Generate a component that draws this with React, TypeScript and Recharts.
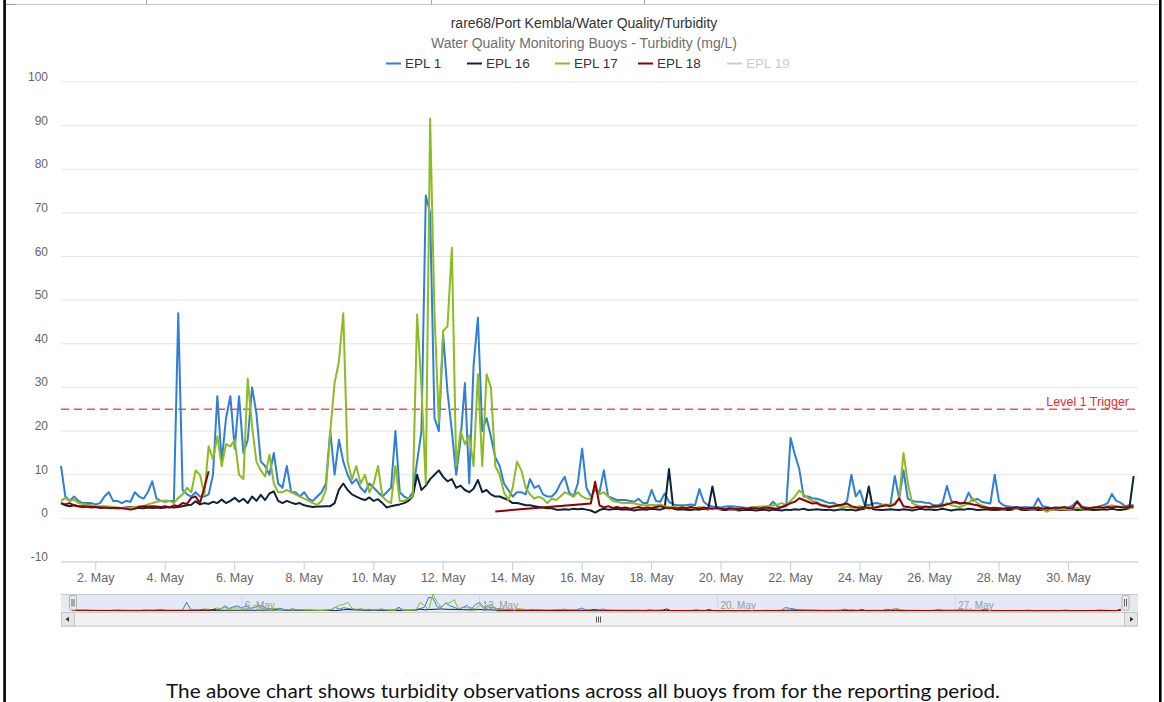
import React from "react";
import { LineChart, Line, XAxis, YAxis, CartesianGrid, ReferenceLine } from "recharts";

// one reading every 3 hours, starting 1 May 00:00
const STEP_HOURS = 3;
const RANGE_HOURS = 744;

// EPL 1, 8 readings per day
const epl1 = [
  12, 5, 4, 5, 4, 3.5, 3.5, 3.5,
  3.2, 3.5, 5, 6, 4, 4, 3.5, 4,
  3.8, 6, 5, 4.5, 6, 8.5, 4.5, 4,
  3.8, 4, 4, 47, 6.5, 5.5, 5, 6,
  5, 5, 5.5, 10, 28, 13, 23, 28,
  16, 28, 15, 18, 30, 24, 13, 12,
  10, 15, 8, 7, 12, 6, 6, 5,
  6, 4.5, 4, 5, 6, 8, 20, 10,
  18, 13, 10, 8, 9, 7, 6, 8,
  7, 6, 5, 6, 7, 20, 6, 5,
  4.5, 6, 13, 20, 74, 70, 23, 20,
  42, 29, 20, 10, 18, 31, 8, 35,
  46, 20, 23, 18.7, 14, 12, 8, 6.5,
  5, 6, 6, 5.5, 9, 7, 7.5, 5.5,
  5, 5, 6, 8, 9.5, 6, 5, 8,
  16, 7, 5, 6.5, 6, 11, 5, 4.6,
  4.2, 4.2, 4.2, 4, 3.8, 4.5, 3.5, 3.5,
  6.5, 4, 3.8, 5.7, 3.8, 3.2, 3, 3,
  3, 3.2, 3, 6.7, 3.8, 3, 2.7, 2.6,
  2.5, 2.7, 2.8, 2.7, 2.6, 2.5, 2.4, 2.5,
  2.6, 2.5, 2.6, 2.8, 3.8, 2.7, 2.6, 2.8,
  18.4, 14.6, 11.3, 5, 5, 4.6, 4.5, 4.2,
  3.8, 3.5, 3.5, 3, 3, 4, 10, 5,
  6.4, 3.2, 3, 3.4, 3.5, 3.2, 3, 3.2,
  9.7, 4.5, 11, 4.5, 4, 3.8, 3.8, 3.6,
  3.5, 3, 3, 3.5, 7.4, 4, 3.5, 3.4,
  3.5, 5.9, 4, 4.5, 3.8, 3.6, 3.4, 10,
  3.8, 3, 2.8, 2.6, 2.6, 2.5, 2.6, 2.5,
  2.6, 4.6, 2.8, 2.6, 2.4, 2.4, 2.5, 2.4,
  2.5, 3, 4, 2.8, 2.5, 2.4, 2.5, 2.7,
  3, 3.5, 5.6, 4, 3.6, 2.8, 3, 3,
];

const epl16 = [
  3.5, 3, 2.8, 3, 2.8, 2.6, 2.7, 2.5,
  2.6, 2.4, 2.5, 2.6, 2.4, 2.3, 2.4, 2.5,
  2.6, 2.5, 2.4, 2.3, 2.5, 2.4, 2.5, 2.4,
  2.5, 2.6, 2.5, 2.6, 2.8, 3, 3.1, 3.9,
  3.2, 3.5, 3.3, 3.8, 3.5, 4.3, 3.5, 4,
  4.7, 3.8, 4.5, 3.5, 5, 4, 5.4, 4.2,
  5.7, 6.2, 4, 3.5, 4, 3.6, 3.3, 3.5,
  3, 2.8, 2.6, 2.7, 2.7, 2.8, 2.8, 3.5,
  6.6, 8, 6.5, 5.5, 5, 4.5, 4.2, 4.8,
  4, 4.4, 3.5, 2.5, 2.8, 3, 3.2, 3.5,
  4, 5, 10, 6.5, 7.5, 9, 10, 11,
  9.5, 8.5, 9, 7, 7.5, 6.5, 6, 6.8,
  8.8, 6, 6.5, 5.5, 5, 5, 4.6, 4.2,
  3.5, 3.5, 3.3, 3, 3, 2.8, 2.6, 2.5,
  2.3, 2.3, 2, 2, 2.1, 2, 2.2, 2.1,
  2.2, 2, 1.8, 1.3, 1.9, 2.2, 2, 2.1,
  2.2, 2, 2.1, 2, 1.8, 2, 2.1, 2,
  2.2, 2.1, 2, 2.3, 11.3, 2.2, 2, 2.1,
  2, 1.9, 2.1, 2, 2.2, 2, 7.3, 2.2,
  2, 1.9, 2.1, 2, 1.8, 1.9, 2, 1.9,
  1.8, 1.9, 2, 1.8, 2, 1.9, 1.8, 2,
  1.9, 2.1, 2, 2.2, 1.9, 2, 2.1, 2,
  1.9, 2, 1.8, 2, 2.1, 1.9, 2, 1.8,
  2, 2.2, 7.3, 2.1, 2, 1.9, 2, 2.1,
  2, 1.9, 2.1, 2, 1.8, 2, 2.2, 2,
  2.1, 1.9, 2, 2.2, 2, 1.8, 2, 2.1,
  2, 2.2, 2.1, 1.9, 2, 2.1, 2, 1.9,
  2, 2.1, 1.9, 2, 2.2, 2, 1.9, 2,
  2.1, 1.9, 2, 1.8, 2, 2.1, 1.9, 2,
  2, 2.1, 1.9, 2, 2.1, 2, 1.9, 2,
  2.1, 2, 2.2, 2, 1.9, 2.1, 2.3, 9.7,
];

const epl17 = [
  4, 4.7, 4, 4.3, 3.5, 3.3, 3.1, 3,
  2.8, 2.8, 2.8, 2.7, 2.6, 2.5, 2.4, 2.4,
  2.5, 2.6, 2.8, 2.8, 3.2, 3.5, 3.8, 4,
  4.1, 4, 3.5, 4.7, 5.5, 7, 6, 11,
  10, 5.5, 16.5, 13.5, 18.8, 12, 17, 16.5,
  18, 10, 9, 32, 21, 13, 11, 9.6,
  14.6, 8, 6, 6, 6.5, 6, 5.5, 5,
  4.5, 4, 3.5, 3.1, 4, 6.5, 20, 31,
  36, 47, 13, 9, 12, 8, 10, 6,
  8, 12, 5, 4, 3.5, 12, 4, 4,
  4.5, 5, 46.7, 30, 8, 91.6, 47, 22,
  43, 44, 62, 12, 20, 17, 19, 12,
  33, 12, 33, 30, 12, 10, 6, 4.2,
  7, 13, 11, 7, 5.5, 4.5, 5, 4.5,
  3.5, 4.5, 4.2, 5, 6, 5.5, 5, 6,
  5, 4.5, 4.5, 7.5, 5.5, 6, 5, 4,
  3.8, 3.6, 3.5, 3.5, 3.4, 3.2, 3, 3,
  3.1, 3, 3.2, 2.8, 2.6, 2.7, 2.5, 2.6,
  2.4, 2.5, 2.3, 2.6, 2.4, 2.2, 2.3, 2.2,
  2.1, 2.2, 2.3, 2, 2.1, 2.2, 2.4, 2.5,
  2.6, 2.7, 2.7, 2.8, 3, 3.2, 3.5, 3,
  4, 5, 6.4, 5.5, 4.6, 4, 3.8, 3.2,
  3, 2.6, 3, 2.8, 2.5, 2.7, 2.4, 2.6,
  2.8, 2.5, 2.6, 2.4, 2.6, 3, 3.2, 3,
  3.5, 4.5, 15, 8, 3.5, 3, 2.8, 2.5,
  2.6, 2.4, 2.8, 2.6, 3.5, 3, 2.8, 2.6,
  3, 3.5, 4.6, 3.5, 3, 2.6, 2.4, 2.5,
  2.4, 2.2, 2.5, 2.3, 2.1, 2.4, 2.2, 2.3,
  2.2, 2.5, 2.1, 1.5, 2, 2.3, 2.1, 2.2,
  2, 2.3, 2.4, 2.2, 2.5, 2.3, 2.6, 2.4,
  2.5, 2.8, 3, 2.6, 2.4, 2.6, 2.5, 2.4,
];

// EPL 18 has no readings for most of 5-16 May
const epl18: (number | null)[] = [
  3.5, 3.2, 3.5, 3, 2.8, 2.8, 2.7, 2.6,
  2.6, 2.5, 2.5, 2.4, 2.4, 2.4, 2.3, 2.2,
  2, 2.2, 2.6, 2.8, 2.7, 2.8, 2.7, 2.6,
  2.8, 2.5, 3, 2.8, 3.5, 3.3, 4.7, 5,
  3.5, 7, 10.8, null, null, null, null, null,
  null, null, null, null, null, null, null, null,
  null, null, null, null, null, null, null, null,
  null, null, null, null, null, null, null, null,
  null, null, null, null, null, null, null, null,
  null, null, null, null, null, null, null, null,
  null, null, null, null, null, null, null, null,
  null, null, null, null, null, null, null, null,
  null, null, null, null, 1.6, null, null, null,
  null, null, null, null, null, null, null, null,
  null, null, null, null, null, null, null, null,
  null, null, 3.4, 8.4, 3, 2.5, 2.8, 2.4,
  2.6, 2.3, 2.5, 2.2, 2.4, 2.6, 2.3, 2.5,
  2.4, 2.6, 2.8, 2.5, 2.3, 2.4, 2.2, 2.5,
  2.3, 2.6, 2.4, 2.2, 2.5, 2.3, 2.2, 2.4,
  2.2, 2.1, 2.3, 2.2, 2.1, 2.3, 2.2, 2.4,
  2.3, 2.2, 2.5, 2.4, 2.3, 2.2, 2.6, 3,
  3.5, 3.8, 4.6, 4.2, 3.8, 3.4, 3.5, 3,
  2.8, 2.6, 2.8, 3, 3.2, 3.4, 2.8, 2.5,
  2.4, 2.6, 2.3, 2.4, 2.6, 2.8, 3, 2.8,
  3.2, 4.6, 2.8, 2.6, 2.4, 2.6, 2.5, 2.7,
  2.6, 2.8, 2.7, 3, 3.2, 3.5, 3.8, 3.4,
  3.6, 3.4, 3.2, 3, 2.6, 2.5, 2.3, 2.4,
  2.3, 2.2, 2.4, 2.3, 2.5, 2.4, 2.2, 2.4,
  2.3, 2.5, 2.2, 2.4, 2.3, 2.5, 2.4, 2.6,
  2.3, 2.4, 3.8, 2.5, 2.3, 2.4, 2.5, 2.6,
  2.4, 2.6, 2.5, 2.7, 2.6, 2.5, 2.6, 2.7,
];

const yTicks = [-10, 0, 10, 20, 30, 40, 50, 60, 70, 80, 90, 100];
const dayTicks = [2, 4, 6, 8, 10, 12, 14, 16, 18, 20, 22, 24, 26, 28, 30];
const navigatorDays = [6, 13, 20, 27];
const triggerLevel = 25;

const buoys = [
  { key: "epl1", name: "EPL 1", color: "#2f7ed8", visible: true },
  { key: "epl16", name: "EPL 16", color: "#0d233a", visible: true },
  { key: "epl17", name: "EPL 17", color: "#8bbc21", visible: true },
  { key: "epl18", name: "EPL 18", color: "#910000", visible: true },
  { key: "epl19", name: "EPL 19", color: "#cccccc", visible: false },
];

const W = 1164;
const H = 702;
const FONT = "'Liberation Sans', Arial, Helvetica, sans-serif";
const PLOT = { left: 61, right: 1138, top: 82, bottom: 562 };
const NAV = { left: 72, right: 1125, top: 594, bottom: 611 };
const legendX = [386, 467, 555, 638, 727];

const rows = epl1.map((v, i) => ({
  t: i * STEP_HOURS,
  epl1: v,
  epl16: epl16[i],
  epl17: epl17[i],
}));

// drop missing readings, but break the line where the hole is longer than maxGap hours
function gapped(values: (number | null)[], maxGap: number) {
  const out: { t: number; epl18: number | null }[] = [];
  let last: number | null = null;
  values.forEach((v, i) => {
    if (v == null) return;
    const t = i * STEP_HOURS;
    if (last !== null && t - last > maxGap) out.push({ t: (t + last) / 2, epl18: null });
    out.push({ t, epl18: v });
    last = t;
  });
  return out;
}
const epl18Points = gapped(epl18, 100);

const hoursOf = (day: number) => (day - 1) * 24;
const dayLabel = (h: number) => `${Math.round(h / 24) + 1}. May`;

const XTick = ({ x, y, payload }: any) => (
  <text x={x} y={y + 9.5} textAnchor="middle" fill="#666" fontSize={12.5} fontFamily={FONT}>
    {dayLabel(payload.value)}
  </text>
);

const YTick = ({ x, y, payload }: any) => (
  <text x={x} y={y - 1} textAnchor="end" fill="#666" fontSize={12} fontFamily={FONT}>
    {payload.value}
  </text>
);

const NavTick = ({ x, y, payload }: any) => (
  <text x={x + 3} y={y - 2.5} fill="#999" fontSize={10} fontFamily={FONT}>
    {dayLabel(payload.value)}
  </text>
);

const TriggerLabel = (props: any) => {
  const vb = props.viewBox;
  return (
    <text x={vb.x + vb.width - 9} y={vb.y - 3.5} textAnchor="end" fill="#ee2b2b" fontSize={12.5} fontFamily={FONT}>
      Level 1 Trigger
    </text>
  );
};

function seriesLines(width: number) {
  return buoys
    .filter((b) => b.visible)
    .map((b) => (
      <Line
        key={b.key}
        data={b.key === "epl18" ? epl18Points : undefined}
        dataKey={b.key}
        type="linear"
        stroke={b.color}
        strokeWidth={width}
        strokeLinejoin="round"
        dot={false}
        activeDot={false}
        isAnimationActive={false}
      />
    ));
}

function Frame() {
  return (
    <svg width={W} height={H} style={{ position: "absolute", left: 0, top: 0 }}>
      {/* page bits around the chart */}
      <line x1={6} x2={1159} y1={4.5} y2={4.5} stroke="#c8c8c8" />
      <line x1={6} x2={15} y1={4.5} y2={4.5} stroke="#999" />
      {[146, 431, 644].map((x) => (
        <line key={x} x1={x + 0.5} x2={x + 0.5} y1={0} y2={4.5} stroke="#a8a8a8" />
      ))}
      <rect x={3.3} y={0} width={2.6} height={H} fill="#000" />
      <rect x={1159} y={0} width={2.6} height={H} fill="#000" />

      <text x={584} y={28} textAnchor="middle" fill="#333" fontSize={14} fontFamily={FONT}>
        rare68/Port Kembla/Water Quality/Turbidity
      </text>
      <text x={584} y={47.5} textAnchor="middle" fill="#6e6e6e" fontSize={14} fontFamily={FONT}>
        Water Quality Monitoring Buoys - Turbidity (mg/L)
      </text>
      {buoys.map((b, i) => (
        <g key={b.key}>
          <line x1={legendX[i]} x2={legendX[i] + 15} y1={63.5} y2={63.5} stroke={b.visible ? b.color : "#cccccc"} strokeWidth={2} />
          <text x={legendX[i] + 19} y={68} fill={b.visible ? "#333" : "#cccccc"} fontSize={13.5} fontFamily={FONT}>
            {b.name}
          </text>
        </g>
      ))}

      {/* navigator background and scrollbar */}
      <rect x={PLOT.left} y={NAV.top} width={PLOT.right - PLOT.left} height={NAV.bottom - NAV.top + 1} fill="#e3eaf5" />
      <line x1={PLOT.left} x2={PLOT.right} y1={NAV.top + 0.5} y2={NAV.top + 0.5} stroke="#c4c8d0" />
      <rect x={PLOT.left + 0.5} y={612.5} width={PLOT.right - PLOT.left - 1} height={13.5} fill="#f2f3f5" stroke="#cfcfcf" />
      <rect x={74.5} y={612.5} width={1050} height={13.5} fill="#f1f1f1" stroke="#cfcfcf" />
      <rect x={PLOT.left + 0.5} y={612.5} width={13} height={13.5} fill="#e6e6e6" stroke="#c6c6c6" />
      <rect x={1124.5} y={612.5} width={13} height={13.5} fill="#e6e6e6" stroke="#c6c6c6" />
      <polygon points="65.5,619.3 69,616.8 69,621.8" fill="#333" />
      <polygon points="1133.5,619.3 1130,616.8 1130,621.8" fill="#333" />
      {[596.5, 598.5, 600.5].map((x) => (
        <line key={x} x1={x} x2={x} y1={616.5} y2={622.5} stroke="#555" />
      ))}

      <text
        x={583}
        y={698}
        textAnchor="middle"
        fill="#111"
        fontSize={20}
        textLength={834}
        lengthAdjust="spacingAndGlyphs"
        fontFamily="Lato, 'Open Sans', sans-serif"
      >
        The above chart shows turbidity observations across all buoys from for the reporting period.
      </text>
    </svg>
  );
}

function Handles() {
  return (
    <svg width={W} height={H} style={{ position: "absolute", left: 0, top: 0, pointerEvents: "none" }}>
      {[NAV.left + 1, NAV.right + 0.5].map((cx) => (
        <g key={cx}>
          <rect x={cx - 3.5} y={595.5} width={7} height={14.5} rx={1.5} fill="#ebe7e8" stroke="#b2b1b6" />
          <line x1={cx - 1} x2={cx - 1} y1={599} y2={606.5} stroke="#666" />
          <line x1={cx + 1} x2={cx + 1} y1={599} y2={606.5} stroke="#666" />
        </g>
      ))}
    </svg>
  );
}

export default function App() {
  return (
    <div style={{ position: "absolute", left: 0, top: 0, width: W, height: H, overflow: "hidden", background: "#fff" }}>
      <Frame />
      <div style={{ position: "absolute", left: 0, top: 0 }}>
        <LineChart
          width={W}
          height={592}
          data={rows}
          margin={{ top: PLOT.top, right: W - PLOT.right, bottom: 0, left: 0 }}
        >
          <CartesianGrid horizontal vertical={false} stroke="#e4e4e4" />
          <XAxis
            dataKey="t"
            type="number"
            domain={[0, RANGE_HOURS]}
            ticks={dayTicks.map(hoursOf)}
            interval={0}
            height={30}
            tickSize={8}
            tickLine={{ stroke: "#c0d0e0" }}
            axisLine={{ stroke: "#c0d0e0" }}
            tick={<XTick />}
          />
          <YAxis
            type="number"
            domain={[-10, 100]}
            ticks={yTicks}
            interval={0}
            width={PLOT.left}
            axisLine={false}
            tickLine={false}
            tickSize={0}
            tickMargin={13}
            tick={<YTick />}
          />
          <ReferenceLine
            y={triggerLevel}
            stroke="#ff4d4d"
            strokeWidth={1.5}
            strokeDasharray="8 5"
            label={TriggerLabel}
          />
          {seriesLines(2)}
        </LineChart>
      </div>
      <div style={{ position: "absolute", left: 0, top: 590 }}>
        <LineChart
          width={W}
          height={22}
          data={rows}
          margin={{ top: NAV.top - 590, right: W - NAV.right, bottom: 0, left: NAV.left }}
        >
          <CartesianGrid vertical horizontal={false} stroke="#cdd6e4" />
          <XAxis
            dataKey="t"
            type="number"
            domain={[0, RANGE_HOURS]}
            ticks={navigatorDays.map(hoursOf)}
            interval={0}
            height={1}
            axisLine={false}
            tickLine={false}
            tickSize={0}
            tickMargin={0}
            tick={<NavTick />}
          />
          <YAxis hide type="number" domain={[0, 92]} />
          {seriesLines(1)}
        </LineChart>
      </div>
      <Handles />
    </div>
  );
}
